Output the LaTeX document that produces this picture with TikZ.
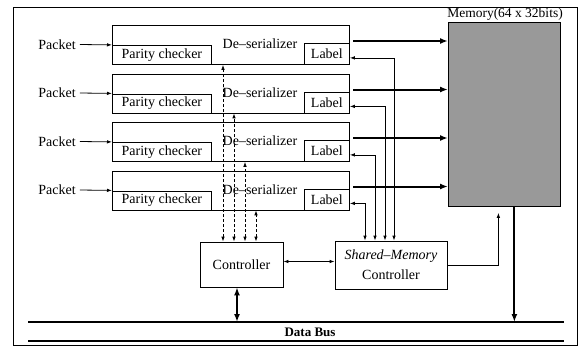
\documentclass[tikz,border=0pt]{standalone}
\usepackage{fontspec}
\setmainfont{Liberation Serif}
\usetikzlibrary{arrows.meta}
\begin{document}
\begin{tikzpicture}[x=1pt,y=-1pt,
  font=\fontsize{14}{16}\selectfont,
  box/.style={draw, line width=0.8pt, inner sep=0pt},
  txt/.style={inner sep=1pt},
  thinarrow/.style={line width=0.8pt, -{Latex[length=5pt,width=3.5pt]}},
  botharrow/.style={line width=0.8pt, {Latex[length=5pt,width=3.5pt]}-{Latex[length=5pt,width=3.5pt]}},
  dasharrow/.style={line width=0.8pt, dash pattern=on 3pt off 2pt, {Latex[length=5pt,width=3.5pt]}-{Latex[length=5pt,width=3.5pt]}},
  busarrow/.style={line width=2pt, -{Latex[length=8pt,width=6pt]}},
  busboth/.style={line width=2pt, {Latex[length=8pt,width=6pt]}-{Latex[length=8pt,width=6pt]}},
  busline/.style={line width=1.1pt}
]
\useasboundingbox (0,0) rectangle (582,349);
\draw[line width=0.8pt] (13,7) rectangle (577,345);

% memory
\node[box, fill=black!40, anchor=north west, minimum width=112pt, minimum height=184pt] (mem) at (448,22) {};
\node[txt, anchor=base, font=\fontsize{13.5}{16}\selectfont] (meml) at (505,17.5) {Memory(64 x 32bits)};

% controllers
\node[box, minimum width=83pt, minimum height=45pt] (ctrl) at (241.5,264.5) {Controller};
\node[box, minimum width=112pt, minimum height=48pt, align=center, font=\fontsize{14}{20}\selectfont] (smc) at (391,265) {\textit{Shared--Memory}\\Controller};

% rows
\foreach \i/\t/\dx/\sx in {1/25/3/-18.5, 2/73.5/-6/-7.5, 3/122/-16/3.5, 4/170.5/-26/14.5}{
  \node[box, anchor=north west, minimum width=237pt, minimum height=39pt] (ds\i) at (112,\t) {};
  \node[box, anchor=south west, minimum width=99pt, minimum height=19pt] (pc\i) at (ds\i.south west) {Parity checker};
  \node[box, anchor=south east, minimum width=45pt, minimum height=21pt] (lb\i) at (ds\i.south east) {Label};
  \node[txt] (dt\i) at (260,\t+19) {De--serializer};
  \node[txt] (pk\i) at (57,\t+19.5) {Packet};
  \draw[thinarrow] (pk\i.east) ++(3pt,0) -- (ds\i.west);
  \coordinate (o\i) at (353,\t+16);
  \draw[busarrow] (o\i) -- (o\i -| mem.west);
  \draw[botharrow] ([yshift=-4pt]lb\i.east) -| ([xshift=\dx pt]smc.north);
  \draw[dasharrow] ([xshift=\sx pt]ctrl.north) -- ([xshift=\sx pt]ctrl.north |- ds\i.south);
}

% data bus
\coordinate (busL) at (28,322);
\coordinate (busR) at (564,322);
\coordinate (busL2) at (28,341);
\coordinate (busR2) at (564,341);
\draw[busline] (busL) -- (busR);
\draw[busline] (busL2) -- (busR2);
\node[txt, font=\fontsize{13}{15}\selectfont\bfseries] (dbus) at (310,332) {Data Bus};

% connections
\draw[botharrow] ([yshift=3pt]ctrl.east) -- ([yshift=3pt]ctrl.east -| smc.west);
\draw[thinarrow] (smc.east) -| ([xshift=-6pt,yshift=-6pt]mem.south);
\draw[busarrow] ([xshift=10pt]mem.south) -- ([xshift=10pt]mem.south |- busL);
\draw[busboth] ([xshift=-4.5pt]ctrl.south) -- ([xshift=-4.5pt]ctrl.south |- busL);
\end{tikzpicture}
\end{document}
